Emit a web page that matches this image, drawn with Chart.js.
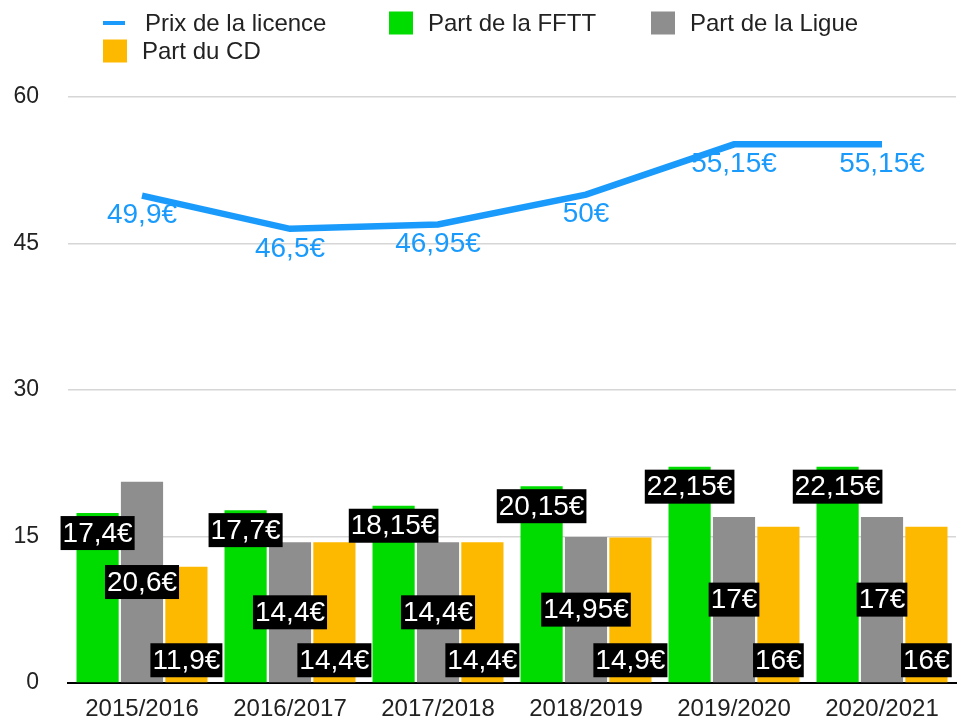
<!DOCTYPE html>
<html>
<head>
<meta charset="utf-8">
<script src="https://cdn.jsdelivr.net/npm/chart.js@4/dist/chart.umd.min.js"></script>
<style>
  html, body { margin: 0; padding: 0; background: #fff; overflow: hidden; }
  canvas { display: block; }
</style>
</head>
<body>
<canvas id="licence-chart" width="957" height="720"></canvas>
<script>
const seasons = ['2015/2016', '2016/2017', '2017/2018', '2018/2019', '2019/2020', '2020/2021'];
const prixLicence = [49.9, 46.5, 46.95, 50, 55.15, 55.15];
const partFFTT = [17.4, 17.7, 18.15, 20.15, 22.15, 22.15];
const partLigue = [20.6, 14.4, 14.4, 14.95, 17, 17];
const partCD = [11.9, 14.4, 14.4, 14.9, 16, 16];
const yTicks = [0, 15, 30, 45, 60];

const FONT = '"Liberation Sans", Helvetica, Arial, sans-serif';
const BLUE = '#1a9bfc';

function euro(v) {
    return String(v).replace('.', ',') + '€';
}

// legend laid out in fixed columns like the original
const legendPlugin = {
    id: 'fixedLegend',
    afterDraw(chart) {
        const ctx = chart.ctx;
        const slots = [[103, 23], [389, 23], [651, 23], [103, 51]];
        ctx.save();
        ctx.font = '24px ' + FONT;
        ctx.textBaseline = 'middle';
        chart.data.datasets.forEach((ds, i) => {
            const [x, y] = slots[i];
            if (ds.type === 'line') {
                ctx.fillStyle = ds.borderColor;
                ctx.fillRect(x, y - 2, 22, 4);
                ctx.fillStyle = '#222';
                ctx.fillText(ds.label, x + 42, y + 1);
            } else {
                ctx.fillStyle = ds.backgroundColor;
                ctx.fillRect(x, y - 11.5, 24, 23);
                ctx.fillStyle = '#222';
                ctx.fillText(ds.label, x + 39, y + 1);
            }
        });
        ctx.restore();
    }
};

// value labels: blue under the line, white on black boxes on the bars
const valueLabels = {
    id: 'valueLabels',
    afterDatasetsDraw(chart) {
        const ctx = chart.ctx;
        ctx.save();
        ctx.font = '28px ' + FONT;
        ctx.textAlign = 'center';
        ctx.textBaseline = 'middle';
        chart.data.datasets.forEach((ds, di) => {
            const meta = chart.getDatasetMeta(di);
            meta.data.forEach((el, i) => {
                const text = euro(ds.data[i]);
                if (ds.type === 'line') {
                    ctx.fillStyle = BLUE;
                    ctx.fillText(text, el.x, el.y + 20);
                    return;
                }
                let cy;
                if (di === 1) cy = el.y + 20;
                else if (di === 2) cy = (el.y + el.base) / 2;
                else cy = el.base - 22;
                const w = ctx.measureText(text).width + 4;
                ctx.fillStyle = '#000';
                ctx.fillRect(el.x - w / 2, cy - 17, w, 34);
                ctx.fillStyle = '#fff';
                ctx.fillText(text, el.x, cy + 1);
            });
        });
        ctx.restore();
    }
};

new Chart(document.getElementById('licence-chart'), {
    data: {
        labels: seasons,
        datasets: [
            {
                type: 'line',
                label: 'Prix de la licence',
                data: prixLicence,
                borderColor: BLUE,
                backgroundColor: BLUE,
                borderWidth: 6.5,
                pointRadius: 0,
                tension: 0,
                order: 0
            },
            {
                type: 'bar',
                label: 'Part de la FFTT',
                data: partFFTT,
                backgroundColor: '#00dc00',
                order: 1
            },
            {
                type: 'bar',
                label: 'Part de la Ligue',
                data: partLigue,
                backgroundColor: '#8e8e8e',
                order: 1
            },
            {
                type: 'bar',
                label: 'Part du CD',
                data: partCD,
                backgroundColor: '#fdb900',
                order: 1
            }
        ]
    },
    options: {
        responsive: false,
        animation: false,
        layout: { padding: { top: 97, right: 1, left: 0, bottom: 0 } },
        datasets: {
            bar: { categoryPercentage: 0.9, barPercentage: 0.95 }
        },
        plugins: {
            legend: { display: false },
            tooltip: { enabled: false }
        },
        scales: {
            x: {
                grid: { display: false, drawTicks: false },
                border: { color: '#000', width: 2 },
                ticks: { color: '#222', padding: 12, font: { family: FONT, size: 24 } },
                afterFit(scale) { scale.height = 37; }
            },
            y: {
                min: 0,
                max: 60,
                afterBuildTicks(scale) {
                    scale.ticks = yTicks.map(v => ({ value: v }));
                },
                grid: { color: '#d6d6d6', lineWidth: 1.5, drawTicks: false },
                border: { display: false },
                ticks: { color: '#222', padding: 29, font: { family: FONT, size: 23 } },
                afterFit(scale) {
                    scale.width = 68;
                    // tick padding is only meant horizontally here
                    scale.paddingTop = 14;
                    scale.paddingBottom = 14;
                }
            }
        }
    },
    plugins: [valueLabels, legendPlugin]
});
</script>
</body>
</html>
